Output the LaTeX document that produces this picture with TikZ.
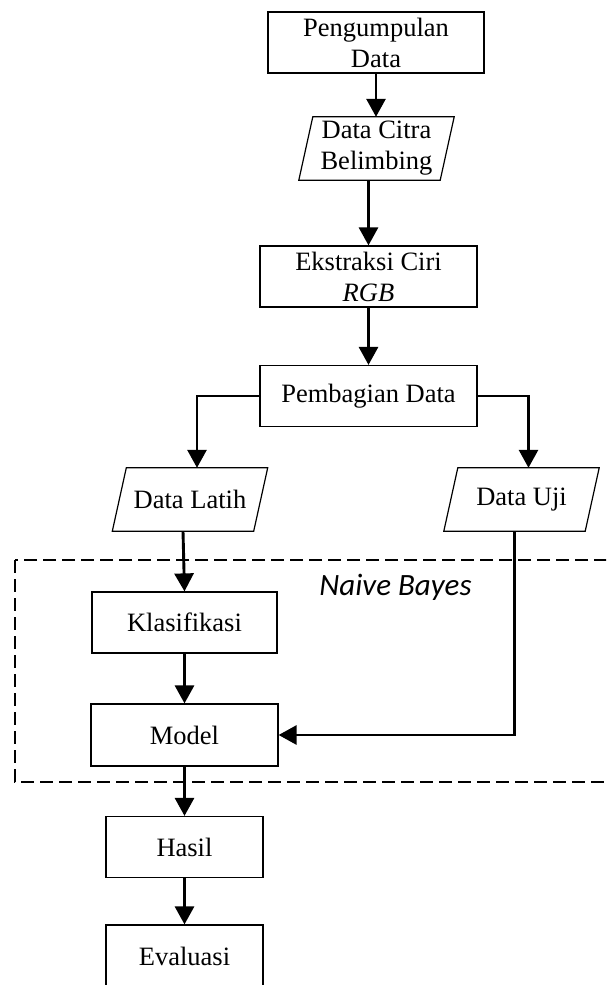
\documentclass[tikz,border=0pt]{standalone}
\usepackage{fontspec}
\setmainfont{Liberation Serif}
\newfontfamily\labelfont{Carlito}
\usetikzlibrary{arrows.meta,calc}

\tikzset{
  box/.style={draw=black, line width=1.2pt, minimum width=#1, minimum height=61pt,
    inner sep=0pt, align=center, font=\fontsize{26.5}{31}\selectfont},
  box/.default=217pt,
  parabody/.style={minimum width=141pt, minimum height=63pt, inner sep=0pt,
    align=center, font=\fontsize{26.5}{31}\selectfont},
  flow/.style={line width=2.9pt, -{Triangle[width=19pt,length=18pt]}},
  groupframe/.style={draw=black, line width=1.1pt, dash pattern=on 13pt off 6pt},
}

% outline of a slanted data (input/output) node
\newcommand\slantoutline[1]{%
  \draw[line width=1.2pt] ($(#1.north west)+(7,0)$) -- ($(#1.north east)+(7,0)$)
    -- ($(#1.south east)+(-7,0)$) -- ($(#1.south west)+(-7,0)$) -- cycle;}

\begin{document}
\begin{tikzpicture}[x=1pt, y=-1pt]
\useasboundingbox (0,0) rectangle (606,985);
\clip (0,0) rectangle (606,985);

% grouping frame
\draw[groupframe] (15,560) rectangle (640,782);
\node[font=\labelfont\itshape\fontsize{31}{36}\selectfont, anchor=base] (nb) at (395.5,595) {Naive Bayes};

% process boxes
\node[box=216pt] (kumpul) at (376,42.5) {Pengumpulan\\Data};
\node[box] (ekstrak) at (368.5,276.5) {Ekstraksi Ciri\\\textit{RGB}};
\node[box] (bagi) at (368.5,396) {Pembagian Data};
\node[box=185pt] (klas) at (184.5,622.5) {Klasifikasi};
\node[box=187pt, minimum height=62pt] (model) at (184.5,735) {Model};
\node[box=157pt] (hasil) at (184.5,847) {Hasil};
\node[box=157pt, minimum height=62pt] (eval) at (184.5,956) {Evaluasi};

% data nodes
\node[parabody] (citra) at (376.5,148.5) {Data Citra\\Belimbing};
\slantoutline{citra}
\node[parabody] (latih) at (190,499.5) {Data Latih};
\slantoutline{latih}
\node[parabody] (uji) at (521.5,499.5) {Data Uji};
\slantoutline{uji}

% connectors
\draw[flow] (kumpul.south) -- (kumpul.south |- citra.north);
\draw[flow] (ekstrak.north |- citra.south) -- (ekstrak.north);
\draw[flow] (ekstrak.south) -- (bagi.north);
\draw[flow] (bagi.west) -| ($(latih.north)+(7,0)$);
\draw[flow] (bagi.east) -| ($(uji.north)+(7,0)$);
\draw[flow] ($(latih.south)+(-7,0)$) -- (klas.north);
\draw[flow] (klas.south) -- (model.north);
\draw[flow] ($(uji.south)+(-7,0)$) |- (model.east);
\draw[flow] (model.south) -- (hasil.north);
\draw[flow] (hasil.south) -- (eval.north);
\end{tikzpicture}
\end{document}
